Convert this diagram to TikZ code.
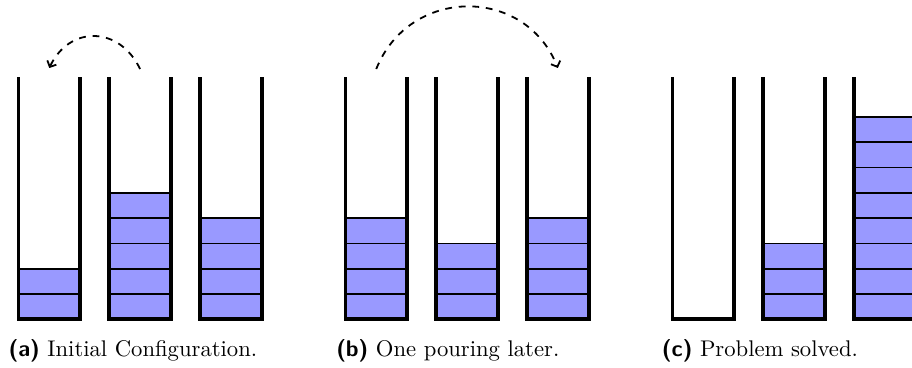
\documentclass[tikz,border=0pt]{standalone}
\usepackage{fontspec}
\setmainfont{lmroman10-regular.otf}[BoldFont=lmroman10-bold.otf]
\setsansfont{lmsans10-regular.otf}[BoldFont=lmsans10-bold.otf]
\usetikzlibrary{arrows.meta}
\definecolor{liquid}{RGB}{153,153,255}
\begin{document}
\begin{tikzpicture}[x=0.75pt,y=-0.75pt,
  wall/.style={line width=2.9pt,line join=miter,line cap=butt},
  unitblock/.style={fill=liquid,draw=black,line width=1.25pt},
  pour/.style={line width=1.35pt,dash pattern=on 5.1pt off 5.1pt,
    -{Straight Barb[length=3.6pt,width=7.5pt]}},
  caption/.style={anchor=base west,inner sep=0pt,font=\fontsize{17}{20}\selectfont}]
\path[use as bounding box,clip] (0,0) rectangle (912,367);

% geometry of one tube
\def\tubew{61.5}
\def\tubetop{77.3}
\def\tubebot{319.3}
\def\unith{25.3}

% \tube{left x}{number of units}
\newcommand{\tube}[2]{%
  \ifnum#2>0
    \foreach \i in {1,...,#2}{%
      \path[unitblock] (#1,\tubebot-\i*\unith+\unith) rectangle (#1+\tubew,\tubebot-\i*\unith);
    }%
  \fi
  \draw[wall] (#1,\tubetop) -- (#1,\tubebot) -- (#1+\tubew,\tubebot) -- (#1+\tubew,\tubetop);
}

% (a) initial configuration
\tube{18.5}{2}
\tube{109.3}{5}
\tube{200.3}{4}
% (b) after one pouring
\tube{345.5}{4}
\tube{436.3}{3}
\tube{527.1}{4}
% (c) solved
\tube{672.5}{0}
\tube{763.3}{3}
\tube{854.1}{8}

% mouths of the tubes used by the pouring arrows
\coordinate (a1t) at (49.25,68);
\coordinate (a2t) at (140.05,69);
\coordinate (b1t) at (376.25,69);
\coordinate (b3t) at (557.85,68);

\draw[pour] (a2t) .. controls +(-20.5,-43) and +(20.5,-43) .. (a1t);
\draw[pour] (b1t) .. controls +(33,-82.5) and +(-33,-82.5) .. (b3t);

% captions
\node[caption] (capa) at (8.3,356) {{\sffamily\bfseries (a)} Initial Configuration.};
\node[caption] (capb) at (336,356) {{\sffamily\bfseries (b)} One pouring later.};
\node[caption] (capc) at (661.7,356) {{\sffamily\bfseries (c)} Problem solved.};
\end{tikzpicture}
\end{document}
